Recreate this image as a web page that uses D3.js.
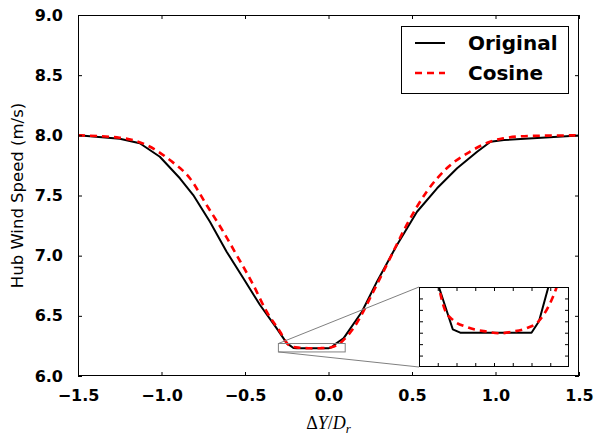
<!DOCTYPE html>
<html>
<head>
<meta charset="utf-8">
<script src="https://cdn.jsdelivr.net/npm/d3@7"></script>
<style>
  body { margin: 0; background: #fff; }
  svg { display: block; }
  .tick text { font-family: "DejaVu Sans", sans-serif; font-weight: bold; font-size: 16px; fill: #000; }
</style>
</head>
<body>
<svg width="596" height="438"></svg>
<script>
// hub wind speed vs lateral offset, two yaw models
const origX = [-1.5, -1.25, -1.13, -1.01, -0.89, -0.81, -0.71, -0.61, -0.51, -0.41, -0.31, -0.25, -0.21, -0.19, 0.0, 0.02, 0.045, 0.09, 0.2, 0.29, 0.41, 0.53, 0.65, 0.77, 0.89, 0.97, 1.05, 1.5];
const origY = [8.0, 7.972, 7.934, 7.822, 7.643, 7.504, 7.282, 7.033, 6.812, 6.59, 6.396, 6.273, 6.233, 6.23, 6.23, 6.24, 6.27, 6.313, 6.534, 6.784, 7.089, 7.365, 7.56, 7.726, 7.864, 7.947, 7.961, 7.998];
const cosX = [-1.5, -1.25, -1.09, -0.95, -0.83, -0.73, -0.63, -0.55, -0.45, -0.37, -0.29, -0.247, -0.231, -0.209, -0.173, -0.12, -0.084, -0.049, -0.013, 0.018, 0.045, 0.067, 0.089, 0.149, 0.268, 0.368, 0.468, 0.588, 0.708, 0.847, 0.967, 1.047, 1.2, 1.5];
const cosY = [8.0, 7.98, 7.92, 7.795, 7.643, 7.421, 7.199, 7.005, 6.756, 6.534, 6.368, 6.27, 6.25, 6.241, 6.235, 6.231, 6.2295, 6.231, 6.234, 6.2397, 6.2528, 6.27, 6.298, 6.396, 6.7, 6.978, 7.255, 7.532, 7.726, 7.864, 7.947, 7.975, 7.995, 8.0];
const xTicks = [-1.5, -1.0, -0.5, 0.0, 0.5, 1.0, 1.5];
const yTicks = [6.0, 6.5, 7.0, 7.5, 8.0, 8.5, 9.0];
const zoomX = [-0.3, 0.1], zoomY = [6.2, 6.27];
const zoomXTicks = [-0.25, -0.2, -0.15, -0.1, -0.05, 0.0, 0.05];
const zoomYTicks = [6.21, 6.22, 6.23, 6.24, 6.25, 6.26];
const seriesNames = ['Original', 'Cosine'];

const svg = d3.select('svg');
const pL = 78, pR = 579, pT = 15, pB = 376;

const x = d3.scaleLinear().domain([-1.5, 1.5]).range([pL, pR]);
const y = d3.scaleLinear().domain([6, 9]).range([pB, pT]);
const fmt = d3.format('.1f');

const origPts = origX.map((v, i) => [v, origY[i]]);
const cosPts = cosX.map((v, i) => [v, cosY[i]]);

svg.append('clipPath').attr('id', 'mainclip')
  .append('rect').attr('x', pL).attr('y', pT).attr('width', pR - pL).attr('height', pB - pT);

const drawLines = (g, xs, ys, clip) => {
  const lineO = d3.line().x(d => xs(d[0])).y(d => ys(d[1]));
  const lineC = d3.line().x(d => xs(d[0])).y(d => ys(d[1])).curve(d3.curveMonotoneX);
  const lg = g.append('g').attr('clip-path', `url(#${clip})`);
  lg.append('path').attr('d', lineO(origPts))
    .attr('fill', 'none').attr('stroke', '#000').attr('stroke-width', 2).attr('stroke-linejoin', 'round');
  lg.append('path').attr('d', lineC(cosPts))
    .attr('fill', 'none').attr('stroke', '#ff0000').attr('stroke-width', 2.6).attr('stroke-dasharray', '7,5');
};

drawLines(svg, x, y, 'mainclip');

// axes, ticks pointing inward
const axStyle = g => {
  g.select('.domain').remove();
  g.selectAll('.tick line').attr('stroke', '#000');
};
svg.append('g').attr('transform', `translate(0,${pB})`)
  .call(d3.axisBottom(x).tickValues(xTicks).tickFormat(fmt).tickSize(-4).tickPadding(14))
  .call(axStyle);
svg.append('g').attr('transform', `translate(0,${pT})`)
  .call(d3.axisTop(x).tickValues(xTicks).tickFormat('').tickSize(-4))
  .call(axStyle);
svg.append('g').attr('transform', `translate(${pL},0)`)
  .call(d3.axisLeft(y).tickValues(yTicks).tickFormat(fmt).tickSize(-4).tickPadding(15))
  .call(axStyle);
svg.append('g').attr('transform', `translate(${pR},0)`)
  .call(d3.axisRight(y).tickValues(yTicks).tickFormat('').tickSize(-4))
  .call(axStyle);
svg.append('rect').attr('x', pL + 0.5).attr('y', pT + 0.5)
  .attr('width', pR - pL - 1).attr('height', pB - pT - 1)
  .attr('fill', 'none').attr('stroke', '#000').attr('stroke-width', 1);

// axis labels
svg.append('text')
  .attr('transform', `translate(23,${(pT + pB) / 2}) rotate(-90)`)
  .attr('text-anchor', 'middle')
  .style('font-family', '"DejaVu Sans", sans-serif').style('font-size', '16.5px')
  .text('Hub Wind Speed (m/s)');
const xl = svg.append('text')
  .attr('x', x(0)).attr('y', 429).attr('text-anchor', 'middle')
  .style('font-family', '"Liberation Serif", serif').style('font-size', '18px');
xl.append('tspan').text('Δ');
xl.append('tspan').style('font-style', 'italic').text('Y');
xl.append('tspan').text('/');
xl.append('tspan').style('font-style', 'italic').text('D');
xl.append('tspan').style('font-style', 'italic').style('font-size', '13px').attr('dy', 4).text('r');

// zoom region marker and connectors
const iL = 419, iR = 569, iT = 287, iB = 367;
const xi = d3.scaleLinear().domain(zoomX).range([iL, iR]);
const yi = d3.scaleLinear().domain(zoomY).range([iB, iT]);
const gray = '#808080';
svg.append('rect')
  .attr('x', x(zoomX[0])).attr('y', y(zoomY[1]))
  .attr('width', x(zoomX[1]) - x(zoomX[0])).attr('height', y(zoomY[0]) - y(zoomY[1]))
  .attr('fill', 'none').attr('stroke', gray).attr('stroke-width', 1);
svg.append('line').attr('x1', x(zoomX[0])).attr('y1', y(zoomY[1])).attr('x2', iL).attr('y2', iT)
  .attr('stroke', gray).attr('stroke-width', 1);
svg.append('line').attr('x1', x(zoomX[0])).attr('y1', y(zoomY[0])).attr('x2', iL).attr('y2', iB)
  .attr('stroke', gray).attr('stroke-width', 1);

// inset
const inset = svg.append('g');
inset.append('rect').attr('x', iL).attr('y', iT).attr('width', iR - iL).attr('height', iB - iT).attr('fill', '#fff');
svg.append('clipPath').attr('id', 'insetclip')
  .append('rect').attr('x', iL).attr('y', iT).attr('width', iR - iL).attr('height', iB - iT);
drawLines(inset, xi, yi, 'insetclip');
inset.append('g').attr('transform', `translate(0,${iB})`)
  .call(d3.axisBottom(xi).tickValues(zoomXTicks).tickFormat('').tickSize(-4)).call(axStyle);
inset.append('g').attr('transform', `translate(0,${iT})`)
  .call(d3.axisTop(xi).tickValues(zoomXTicks).tickFormat('').tickSize(-4)).call(axStyle);
inset.append('g').attr('transform', `translate(${iL},0)`)
  .call(d3.axisLeft(yi).tickValues(zoomYTicks).tickFormat('').tickSize(-4)).call(axStyle);
inset.append('g').attr('transform', `translate(${iR},0)`)
  .call(d3.axisRight(yi).tickValues(zoomYTicks).tickFormat('').tickSize(-4)).call(axStyle);
inset.append('rect').attr('x', iL + 0.5).attr('y', iT + 0.5)
  .attr('width', iR - iL - 1).attr('height', iB - iT - 1)
  .attr('fill', 'none').attr('stroke', '#000').attr('stroke-width', 1);

// legend
const leg = svg.append('g');
leg.append('rect').attr('x', 401.5).attr('y', 26.5).attr('width', 167).attr('height', 67)
  .attr('fill', '#fff').attr('stroke', '#000').attr('stroke-width', 1);
seriesNames.forEach((name, i) => {
  const ly = 43 + i * 30;
  leg.append('line').attr('x1', 415).attr('x2', 445).attr('y1', ly).attr('y2', ly)
    .attr('stroke', i ? '#ff0000' : '#000').attr('stroke-width', i ? 2.6 : 2)
    .attr('stroke-dasharray', i ? '7,5' : null);
  leg.append('text').attr('x', 468).attr('y', ly + 7)
    .style('font-family', '"DejaVu Sans", sans-serif').style('font-weight', 'bold').style('font-size', '20px')
    .text(name);
});
</script>
</body>
</html>
